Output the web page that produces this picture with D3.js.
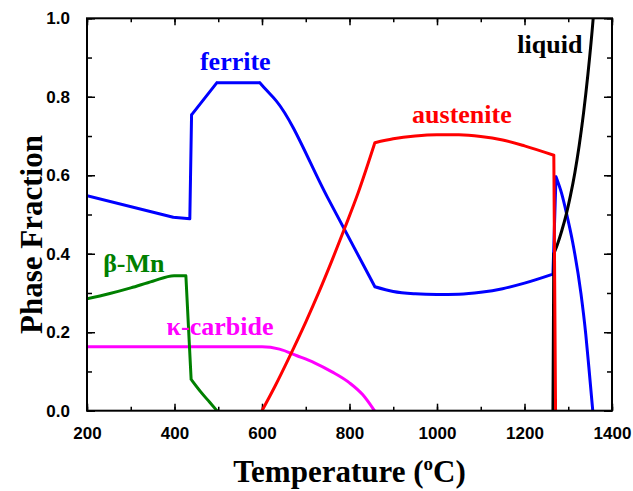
<!DOCTYPE html>
<html><head><meta charset="utf-8">
<script src="https://cdn.jsdelivr.net/npm/d3@7"></script>
<style>
body{margin:0;background:#fff;}
svg{display:block;}
</style></head>
<body>
<svg id="chart" width="633" height="491"></svg>
<script>
// ---- data ----
const xTicks = [200, 400, 600, 800, 1000, 1200, 1400];
const yTicks = [0.0, 0.2, 0.4, 0.6, 0.8, 1.0];

const ferriteT = [200, 397, 435, 439, 497, 595, 610, 633, 750, 858, 900, 950, 1000, 1050, 1100, 1150, 1200, 1265, 1272, 1285, 1296, 1310, 1329, 1340, 1347, 1356];
const ferriteV = [0.548, 0.493, 0.489, 0.754, 0.836, 0.836, 0.817, 0.789, 0.543, 0.316, 0.304, 0.298, 0.296, 0.297, 0.302, 0.311, 0.325, 0.348, 0.596, 0.553, 0.503, 0.43, 0.299, 0.195, 0.112, 0.0];
const ferriteBreaks = [1, 2, 3, 4, 5, 9, 17, 18];

const austeniteT = [600, 630, 660, 700, 730, 760, 790, 820, 858, 900, 950, 1000, 1050, 1100, 1150, 1200, 1267, 1271];
const austeniteV = [0.0, 0.063, 0.131, 0.226, 0.302, 0.383, 0.468, 0.556, 0.683, 0.693, 0.700, 0.703, 0.703, 0.699, 0.690, 0.675, 0.651, 0.0];
const austeniteBreaks = [8, 16];

const liquidT = [1265, 1267, 1275, 1285, 1296, 1305, 1315, 1325, 1335, 1345, 1357, 1365];
const liquidV = [0.0, 0.40, 0.423, 0.458, 0.503, 0.548, 0.606, 0.676, 0.759, 0.858, 1.0, 1.12];
const liquidBreaks = [1];

const betaMnT = [200, 250, 300, 350, 399, 426, 438, 460, 480, 497];
const betaMnV = [0.285, 0.298, 0.313, 0.330, 0.344, 0.344, 0.08, 0.048, 0.022, 0.0];
const betaMnBreaks = [5, 6];

const kappaT = [200, 600, 640, 680, 720, 760, 800, 830, 857];
const kappaV = [0.163, 0.163, 0.157, 0.140, 0.122, 0.099, 0.071, 0.041, 0.0];
const kappaBreaks = [];

const seriesNames = ["ferrite", "austenite", "liquid", "β-Mn", "κ-carbide"];
const seriesColors = ["#0000ff", "#ff0000", "#000000", "#008000", "#ff00ff"];
const labelT = [539, 1057, 1258, 307, 504];
const labelV = [0.868, 0.733, 0.912, 0.353, 0.193];

// ---- layout ----
const svg = d3.select("#chart");
const L = 87, R = 612, T = 18.3, B = 410.7;
const x = d3.scaleLinear().domain([200, 1400]).range([L, R]);
const y = d3.scaleLinear().domain([0, 1]).range([B, T]);

svg.append("defs").append("clipPath").attr("id", "clip")
  .append("rect").attr("x", L).attr("y", T).attr("width", R - L).attr("height", B - T);

const minorX = d3.range(200, 1401, 100);
const minorY = d3.range(0, 1.0001, 0.1);

function styleAxis(g) {
  g.select(".domain").remove();
  g.selectAll(".tick line").attr("stroke", "#000").attr("stroke-width", 1.5);
}

// minor ticks
svg.append("g").attr("transform", `translate(0,${B})`)
  .call(d3.axisBottom(x).tickValues(minorX).tickSize(-4).tickFormat(""))
  .call(styleAxis);
svg.append("g").attr("transform", `translate(0,${T})`)
  .call(d3.axisTop(x).tickValues(minorX).tickSize(-4).tickFormat(""))
  .call(styleAxis);
svg.append("g").attr("transform", `translate(${L},0)`)
  .call(d3.axisLeft(y).tickValues(minorY).tickSize(-5).tickFormat(""))
  .call(styleAxis);
svg.append("g").attr("transform", `translate(${R},0)`)
  .call(d3.axisRight(y).tickValues(minorY).tickSize(-5).tickFormat(""))
  .call(styleAxis);

// major ticks
const xb = svg.append("g").attr("transform", `translate(0,${B})`)
  .call(d3.axisBottom(x).tickValues(xTicks).tickSize(-7).tickPadding(16).tickFormat(d3.format("d")))
  .call(styleAxis);
svg.append("g").attr("transform", `translate(0,${T})`)
  .call(d3.axisTop(x).tickValues(xTicks).tickSize(-7).tickFormat(""))
  .call(styleAxis);
const yl = svg.append("g").attr("transform", `translate(${L},0)`)
  .call(d3.axisLeft(y).tickValues(yTicks).tickSize(-8).tickPadding(17).tickFormat(d3.format(".1f")))
  .call(styleAxis);
svg.append("g").attr("transform", `translate(${R},0)`)
  .call(d3.axisRight(y).tickValues(yTicks).tickSize(-8).tickFormat(""))
  .call(styleAxis);

[xb, yl].forEach(g => g.selectAll("text")
  .attr("font-family", "'Liberation Sans', Arial, sans-serif")
  .attr("font-weight", "bold").attr("font-size", 17).attr("fill", "#000"));
xb.selectAll("text").attr("dy", "0.71em");

// lines: each series split at its sharp corners, smooth (monotone) between them
const allT = [ferriteT, austeniteT, liquidT, betaMnT, kappaT];
const allV = [ferriteV, austeniteV, liquidV, betaMnV, kappaV];
const allBreaks = [ferriteBreaks, austeniteBreaks, liquidBreaks, betaMnBreaks, kappaBreaks];
const line = d3.line().x(d => x(d[0])).y(d => y(d[1])).curve(d3.curveMonotoneX);
const plot = svg.append("g").attr("clip-path", "url(#clip)");
const order = [4, 3, 0, 2, 1];
order.forEach(i => {
  const pts = allT[i].map((t, j) => [t, allV[i][j]]);
  const cuts = [0, ...allBreaks[i], pts.length - 1];
  let d = "";
  for (let k = 0; k < cuts.length - 1; k++) {
    d += line(pts.slice(cuts[k], cuts[k + 1] + 1));
  }
  plot.append("path").attr("d", d)
    .attr("fill", "none").attr("stroke", seriesColors[i])
    .attr("stroke-width", 3).attr("stroke-linejoin", "round").attr("stroke-linecap", "round");
});

// frame
svg.append("rect").attr("x", L).attr("y", T).attr("width", R - L).attr("height", B - T)
  .attr("fill", "none").attr("stroke", "#000").attr("stroke-width", 2);

// series labels
seriesNames.forEach((n, i) => {
  svg.append("text").attr("x", x(labelT[i])).attr("y", y(labelV[i]))
    .attr("text-anchor", "middle")
    .attr("font-family", "'Liberation Serif', 'Times New Roman', serif")
    .attr("font-weight", "bold").attr("font-size", 26)
    .attr("fill", seriesColors[i]).text(n);
});

// axis titles
const xt = svg.append("text").attr("x", (L + R) / 2).attr("y", 482)
  .attr("text-anchor", "middle")
  .attr("font-family", "'Liberation Serif', 'Times New Roman', serif")
  .attr("font-weight", "bold").attr("font-size", 31).attr("fill", "#000");
xt.append("tspan").text("Temperature (");
xt.append("tspan").attr("font-size", 19).attr("dy", -12).text("o");
xt.append("tspan").attr("dy", 12).text("C)");

svg.append("text").attr("transform", `translate(42,${(T + B) / 2 + 20}) rotate(-90)`)
  .attr("text-anchor", "middle")
  .attr("font-family", "'Liberation Serif', 'Times New Roman', serif")
  .attr("font-weight", "bold").attr("font-size", 31).attr("fill", "#000")
  .text("Phase Fraction");
</script>
</body></html>
